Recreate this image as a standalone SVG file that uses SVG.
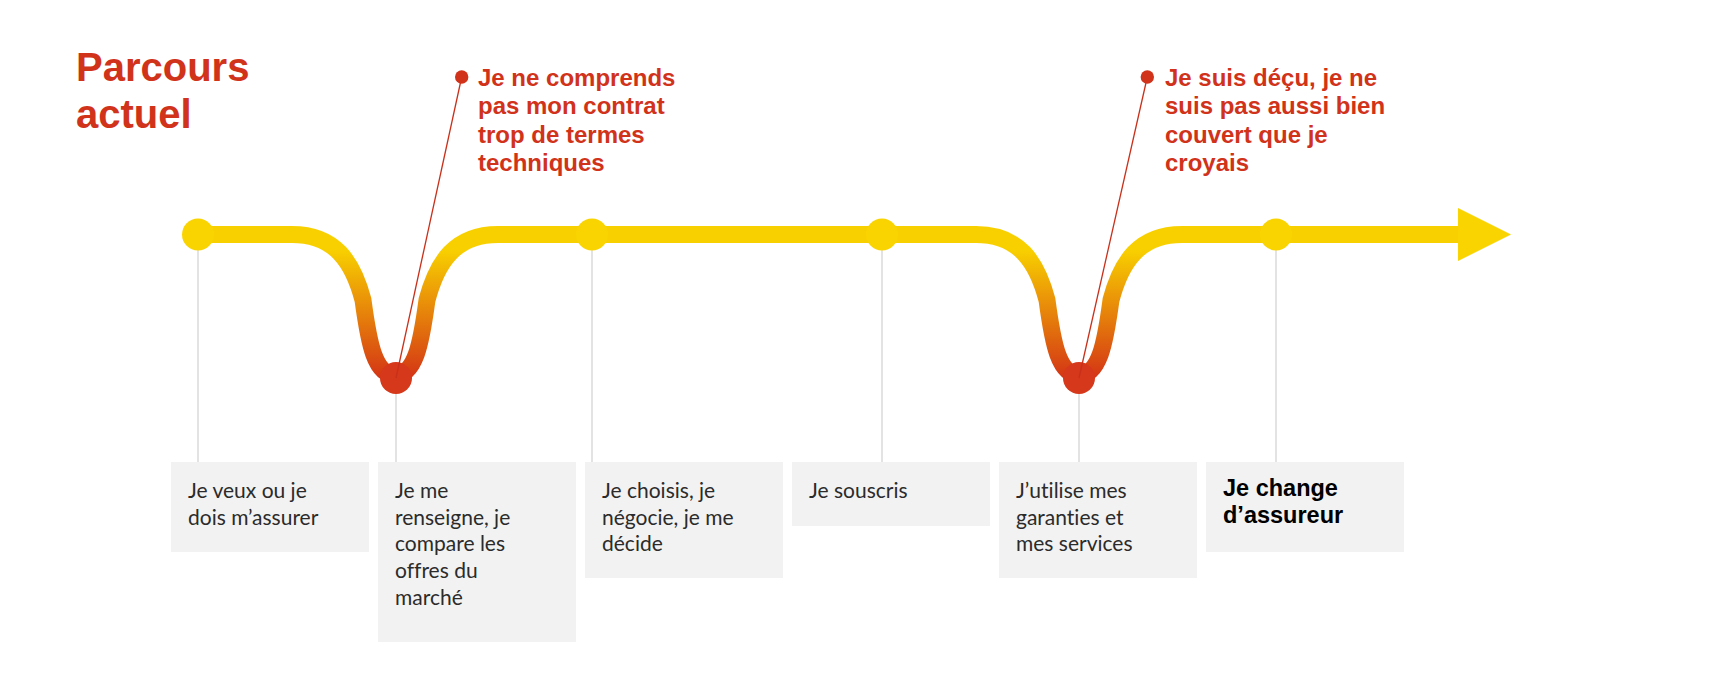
<svg xmlns="http://www.w3.org/2000/svg" width="1728" height="696" viewBox="0 0 1728 696">
<defs>
<linearGradient id="dip" gradientUnits="userSpaceOnUse" x1="0" y1="250" x2="0" y2="385">
<stop offset="0" stop-color="#F8D000"/>
<stop offset="1" stop-color="#D22C16"/>
</linearGradient>
<style>
text{font-variant-ligatures:none}
.title{font-family:"Liberation Sans",Arial,sans-serif;font-weight:700;font-size:40px;fill:#D1321A}
.call{font-family:"Liberation Sans",Arial,sans-serif;font-weight:700;font-size:24px;fill:#D1321A}
.box{fill:#F2F2F2}
.txt{font-family:Lato,"Liberation Sans",sans-serif;font-size:21px;fill:#2B2B2B}
.bold{font-family:"Liberation Sans",Arial,sans-serif;font-weight:700;font-size:23.5px;fill:#000}
.stem{stroke:#E3E3E3;stroke-width:2;fill:none}
.lead{stroke:#C8301A;stroke-width:1.3;fill:none}
.ydot{fill:#FAD400}
.rdot{fill:#D5381A}
.cdot{fill:#D1321A}
</style>
</defs>
<rect width="1728" height="696" fill="#FFFFFF"/>

<g id="title">
<text class="title"><tspan x="76" y="81">Parcours</tspan><tspan x="76" y="128">actuel</tspan></text>
</g>

<g id="connectors">
<line class="stem" x1="198" y1="234" x2="198" y2="462"/>
<line class="stem" x1="396" y1="378" x2="396" y2="462"/>
<line class="stem" x1="592" y1="234" x2="592" y2="462"/>
<line class="stem" x1="882" y1="234" x2="882" y2="462"/>
<line class="stem" x1="1079" y1="378" x2="1079" y2="462"/>
<line class="stem" x1="1276" y1="234" x2="1276" y2="462"/>
<path d="M198 234.5 H292 C335 234.5 353 262 363 300 C369 345 375 375 395 375 C415 375 421 345 427 300 C437 262 455 234.5 498 234.5 H976 C1019 234.5 1037 262 1047 300 C1053 345 1059 375 1079 375 C1099 375 1105 345 1111 300 C1121 262 1139 234.5 1182 234.5 H1460" fill="none" stroke="url(#dip)" stroke-width="17"/>
<polygon points="1458,208 1511,234.5 1458,261" fill="#FAD400"/>
</g>

<g id="step1">
<circle class="ydot" cx="198" cy="234.5" r="16"/>
<rect class="box" x="171" y="462" width="198" height="90"/>
<text class="txt"><tspan x="188" y="498">Je veux ou je</tspan><tspan x="188" y="524.7">dois m’assurer</tspan></text>
</g>

<g id="step2">
<circle class="rdot" cx="396" cy="378" r="16"/>
<rect class="box" x="378" y="462" width="198" height="180"/>
<text class="txt"><tspan x="395" y="498">Je me</tspan><tspan x="395" y="524.7">renseigne, je</tspan><tspan x="395" y="551.4">compare les</tspan><tspan x="395" y="578.1">offres du</tspan><tspan x="395" y="604.8">marché</tspan></text>
</g>

<g id="step3">
<circle class="ydot" cx="592" cy="234.5" r="16"/>
<rect class="box" x="585" y="462" width="198" height="116"/>
<text class="txt"><tspan x="602" y="498">Je choisis, je</tspan><tspan x="602" y="524.7">négocie, je me</tspan><tspan x="602" y="551.4">décide</tspan></text>
</g>

<g id="step4">
<circle class="ydot" cx="882" cy="234.5" r="16"/>
<rect class="box" x="792" y="462" width="198" height="64"/>
<text class="txt" x="809" y="498">Je souscris</text>
</g>

<g id="step5">
<circle class="rdot" cx="1079" cy="378" r="16"/>
<rect class="box" x="999" y="462" width="198" height="116"/>
<text class="txt"><tspan x="1016" y="498">J’utilise mes</tspan><tspan x="1016" y="524.7">garanties et</tspan><tspan x="1016" y="551.4">mes services</tspan></text>
</g>

<g id="step6">
<circle class="ydot" cx="1276" cy="234.5" r="16"/>
<rect class="box" x="1206" y="462" width="198" height="90"/>
<text class="bold"><tspan x="1223" y="496">Je change</tspan><tspan x="1223" y="523">d’assureur</tspan></text>
</g>

<g id="callout1">
<line class="lead" x1="461.7" y1="77" x2="396" y2="378"/>
<circle class="cdot" cx="461.7" cy="77" r="6.7"/>
<text class="call"><tspan x="478" y="86">Je ne comprends</tspan><tspan x="478" y="114.3">pas mon contrat</tspan><tspan x="478" y="142.6">trop de termes</tspan><tspan x="478" y="171">techniques</tspan></text>
</g>

<g id="callout2">
<line class="lead" x1="1147.3" y1="77" x2="1079" y2="378"/>
<circle class="cdot" cx="1147.3" cy="77" r="6.7"/>
<text class="call"><tspan x="1165" y="86">Je suis déçu, je ne</tspan><tspan x="1165" y="114.3">suis pas aussi bien</tspan><tspan x="1165" y="142.6">couvert que je</tspan><tspan x="1165" y="171">croyais</tspan></text>
</g>
</svg>
